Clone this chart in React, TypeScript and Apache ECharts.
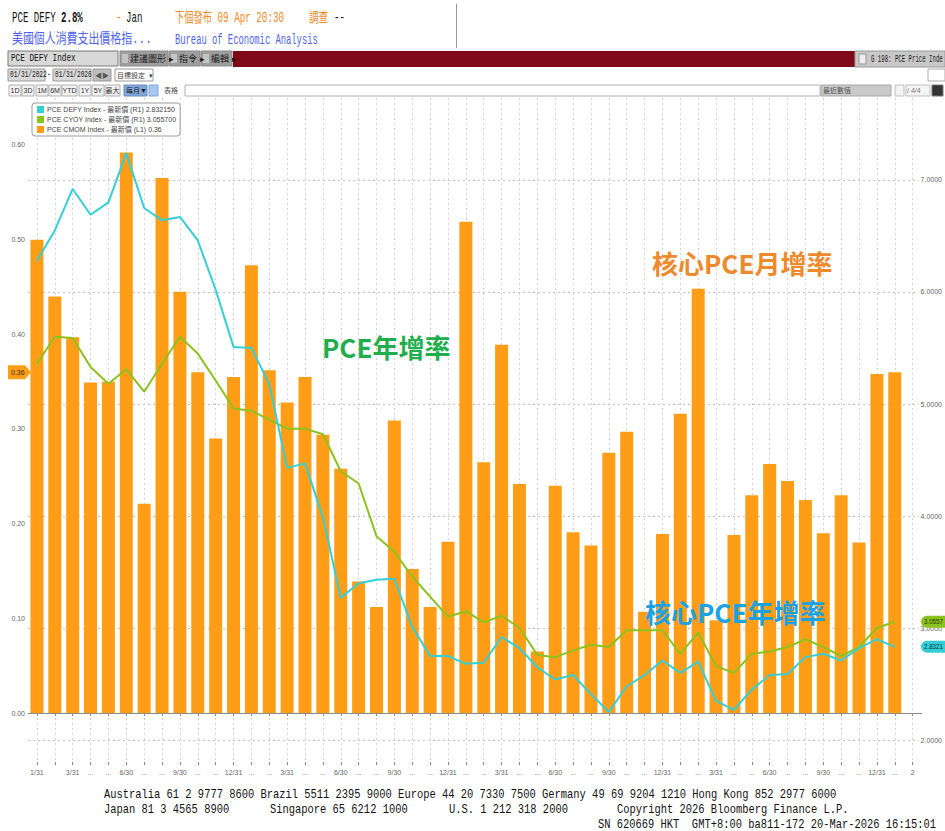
import React, { useEffect, useRef } from "react";
import * as echarts from "echarts";

// ---- data (Jan 2022 .. Jan 2026, monthly) ----
const categories = [
  "1/31", "", "3/31", "...", "...", "6/30", "...", "...", "9/30", "...", "...", "12/31",
  "...", "...", "3/31", "...", "...", "6/30", "...", "...", "9/30", "...", "...", "12/31",
  "...", "...", "3/31", "...", "...", "6/30", "...", "...", "9/30", "...", "...", "12/31",
  "...", "...", "3/31", "...", "...", "6/30", "...", "...", "9/30", "...", "...", "12/31",
  "...", "2",
];

// PCE CMOM Index (core PCE m/m, left axis)
const coreMoM = [
  0.50, 0.44, 0.397, 0.349, 0.35, 0.592, 0.221, 0.565, 0.445, 0.36, 0.29, 0.355,
  0.473, 0.362, 0.328, 0.355, 0.294, 0.258, 0.139, 0.112, 0.309, 0.152, 0.112, 0.181,
  0.519, 0.265, 0.389, 0.242, 0.065, 0.24, 0.191, 0.177, 0.275, 0.297, 0.107, 0.189,
  0.316, 0.448, 0.098, 0.188, 0.23, 0.263, 0.245, 0.225, 0.19, 0.23, 0.18, 0.358,
  0.36,
];

// PCE DEFY Index (headline PCE y/y, right axis)
const headlineYoY = [
  6.28, 6.55, 6.92, 6.69, 6.80, 7.24, 6.75, 6.64, 6.67, 6.46, 6.02, 5.51,
  5.50, 5.18, 4.43, 4.47, 3.99, 3.27, 3.40, 3.43, 3.44, 3.01, 2.75, 2.75,
  2.68, 2.69, 2.92, 2.82, 2.65, 2.54, 2.58, 2.41, 2.25, 2.48, 2.58, 2.71,
  2.60, 2.70, 2.35, 2.27, 2.45, 2.58, 2.59, 2.74, 2.77, 2.71, 2.82, 2.90,
  2.83215,
];

// PCE CYOY Index (core PCE y/y, right axis)
const coreYoY = [
  5.36, 5.60, 5.59, 5.33, 5.18, 5.31, 5.11, 5.36, 5.60, 5.45, 5.21, 4.96,
  4.94, 4.86, 4.78, 4.78, 4.73, 4.40, 4.29, 3.82, 3.68, 3.46, 3.28, 3.10,
  3.15, 3.05, 3.11, 3.00, 2.76, 2.74, 2.80, 2.85, 2.83, 2.98, 2.98, 2.98,
  2.77, 2.96, 2.66, 2.60, 2.77, 2.79, 2.83, 2.90, 2.83, 2.75, 2.83, 3.00,
  3.0557,
];

const leftTicks = [0, 0.1, 0.2, 0.3, 0.4, 0.5, 0.6];
const rightTicks = [2, 3, 4, 5, 6, 7];

const seriesNames = ["PCE DEFY Index", "PCE CYOY Index", "PCE CMOM Index"];
const legendSuffix = ["(R1) 2.832150", "(R1) 3.055700", "(L1) 0.36"];
const badgeTexts = ["2.8321", "3.0557", "0.36"];

const C_CYAN = "#34CFD6";
const C_GREEN = "#8CC21E";
const C_ORANGE = "#FF9E16";

const MONO = '"Liberation Mono", "Noto Sans CJK TC", monospace';
const SANS = '"Liberation Sans", "Noto Sans CJK TC", sans-serif';
const CJK = '"Noto Sans CJK TC", "Noto Sans", sans-serif';

function txt(text: string, x: number, y: number, o: any = {}) {
  return {
    type: "text",
    x,
    y,
    scaleX: o.sx ?? 1,
    z: 100,
    silent: true,
    style: {
      text,
      fill: o.fill ?? "#111",
      font: `${o.weight ?? "normal"} ${o.size ?? 12}px ${o.family ?? MONO}`,
      align: o.align ?? "left",
      verticalAlign: "middle",
      textAlign: o.align ?? "left",
      textVerticalAlign: "middle",
    },
  };
}

function rect(x: number, y: number, w: number, h: number, fill: string, stroke?: string, r = 0) {
  return {
    type: "rect",
    z: 99,
    silent: true,
    shape: { x, y, width: w, height: h, r },
    style: { fill, stroke: stroke ?? null, lineWidth: stroke ? 1 : 0 },
  };
}

function staticGraphics(): any[] {
  const g: any[] = [];
  const OR = "#F08A1E";
  const BL = "#4F63EC";
  // header row 1
  g.push(txt("PCE DEFY", 12, 18, { size: 14, sx: 0.65 }));
  g.push(txt("2.8%", 61, 18, { size: 14, sx: 0.65, weight: "bold" }));
  g.push(txt("-", 116, 18, { size: 14, sx: 0.65, fill: OR }));
  g.push(txt("Jan", 126, 18, { size: 14, sx: 0.65 }));
  g.push(txt("下個發布 09 Apr 20:30", 175, 18, { size: 14, sx: 0.66, fill: OR }));
  g.push(txt("調查", 309, 18, { size: 14, sx: 0.68, fill: OR }));
  g.push(txt("--", 334, 18, { size: 14, sx: 0.65 }));
  // header row 2
  g.push(txt("美國個人消費支出價格指...", 12, 40, { size: 14, sx: 0.78, fill: BL }));
  g.push(txt("Bureau of Economic Analysis", 175, 40, { size: 14, sx: 0.63, fill: BL }));
  g.push({ type: "line", z: 99, silent: true, shape: { x1: 456.5, y1: 4, x2: 456.5, y2: 48 }, style: { stroke: "#9a9a9a", lineWidth: 1 } });

  // toolbar row A
  g.push(rect(8, 51, 110, 15, "#D8D8D8", "#7a7a7a"));
  g.push(txt("PCE DEFY Index", 11, 58.5, { size: 11, sx: 0.7, fill: "#111" }));
  const btnA = [
    [120, 48, "建議圖形 ▸"],
    [169, 31, "指令 ▸"],
    [201, 31, "編輯 ▸"],
  ];
  btnA.forEach(([x, w, t]: any) => {
    g.push(rect(x, 51, w, 15, "#9E9E9E", "#8a8a8a"));
    g.push(rect(x + 2, 54, 6, 9, "#C4C4C4"));
    g.push(txt(t, x + 10, 58.5, { size: 9, family: SANS, fill: "#1a1a1a" }));
  });
  g.push(rect(233, 51, 622, 16, "#7E0A17"));
  g.push(rect(855, 51, 90, 16, "#C8C8C8", "#9a9a9a"));
  g.push(rect(859, 54, 7, 10, "#EDEDED", "#999"));
  g.push(txt("G 198: PCE Price Inde", 871, 59, { size: 10, sx: 0.57, fill: "#222" }));

  // toolbar row B
  g.push(rect(8, 69, 37, 12, "#D9D9D9", "#9a9a9a"));
  g.push(txt("01/31/2022", 10, 75, { size: 9, sx: 0.68, fill: "#222" }));
  g.push(txt("-", 47, 75, { size: 9, sx: 0.7 }));
  g.push(rect(53, 69, 38, 12, "#D9D9D9", "#9a9a9a"));
  g.push(txt("01/31/2026", 55, 75, { size: 9, sx: 0.68, fill: "#222" }));
  g.push(rect(93, 69, 18, 12, "#BDBDBD", "#9a9a9a"));
  g.push(txt("◀▶", 95, 75, { size: 7, family: SANS, fill: "#555" }));
  g.push(rect(115, 69, 38, 12, "#FFFFFF", "#9a9a9a"));
  g.push(txt("目標設定  ▾", 117, 75, { size: 7, family: SANS, fill: "#444" }));
  g.push(rect(928, 69, 17, 12, "#FFFFFF", "#aaaaaa"));

  // toolbar row C
  const btnC = [
    [9, "1D"], [22, "3D"], [36, "1M"], [49, "6M"], [62, "YTD"], [79, "1Y"], [92, "5Y"], [105, "最大"],
  ];
  btnC.forEach(([x, t]: any) => {
    const w = t === "YTD" ? 15 : t === "最大" ? 15 : 12;
    g.push(rect(x, 85, w, 11, "#F2F2F2", "#b0b0b0"));
    g.push(txt(t, x + w / 2, 90.5, { size: 7, family: SANS, fill: "#333", align: "center" }));
  });
  g.push(rect(124, 85, 23, 11, "#7FA6D8", "#6a8fc0"));
  g.push(txt("每月▼", 126, 90.5, { size: 7, family: SANS, fill: "#1a1a1a" }));
  g.push(rect(149, 85, 9, 11, "#A9C6EC", "#7FA6D8"));
  g.push(txt("表格", 164, 90.5, { size: 7, family: SANS, fill: "#555" }));
  g.push(rect(185, 85, 635, 11, "#FFFFFF", "#b0b0b0"));
  g.push(rect(821, 85, 70, 11, "#C9C9C9", "#a8a8a8"));
  g.push(txt("最近數值", 823, 90.5, { size: 7, family: SANS, fill: "#555" }));
  g.push(rect(895, 85, 9, 11, "#F4F4F4", "#c0c0c0"));
  g.push(rect(906, 85, 24, 11, "#F4F4F4", "#c0c0c0"));
  g.push(txt("/ 4/4 ", 907, 90.5, { size: 7, family: SANS, fill: "#777" }));
  g.push(rect(932, 85, 11, 11, "#333333", "#777"));

  // annotations
  g.push(txt("核心PCE月增率", 652, 262, { size: 26, family: CJK, weight: "bold", fill: "#EE8A2C" }));
  g.push(txt("PCE年增率", 322, 346, { size: 26, family: CJK, weight: "bold", fill: "#1FAE4B" }));
  g.push(txt("核心PCE年增率", 645, 611, { size: 26, family: CJK, weight: "bold", fill: "#1BA2E2" }));

  // footer
  const F = { size: 12, sx: 0.87, fill: "#111" };
  g.push(txt("Australia 61 2 9777 8600 Brazil 5511 2395 9000 Europe 44 20 7330 7500 Germany 49 69 9204 1210 Hong Kong 852 2977 6000", 104, 795, F));
  g.push(txt("Japan 81 3 4565 8900", 104, 810, F));
  g.push(txt("Singapore 65 6212 1000", 270, 810, F));
  g.push(txt("U.S. 1 212 318 2000", 449, 810, F));
  g.push(txt("Copyright 2026 Bloomberg Finance L.P.", 617, 810, F));
  g.push(txt("SN 620669 HKT  GMT+8:00 ba811-172 20-Mar-2026 16:15:01", 598, 825, F));
  return g;
}

export default function App() {
  const ref = useRef<HTMLDivElement>(null);

  useEffect(() => {
    document.body.style.margin = "0";
    const el = ref.current!;
    const chart = echarts.init(el, undefined, { renderer: "svg" });

    const monthIdx = categories.map((_, i) => i);

    const option: any = {
      animation: false,
      backgroundColor: "#ffffff",
      grid: { left: 28, top: 98, width: 901, height: 667, containLabel: false },
      legend: {
        left: 32,
        top: 103,
        orient: "vertical",
        icon: "rect",
        itemWidth: 7,
        itemHeight: 7,
        itemGap: 3,
        padding: [3, 4, 3, 5],
        borderColor: "#9a9a9a",
        borderWidth: 1,
        borderRadius: 3,
        backgroundColor: "#ffffff",
        data: seriesNames,
        formatter: (n: string) => n + " - 最新價 " + legendSuffix[seriesNames.indexOf(n)],
        textStyle: { fontSize: 7, color: "#444", fontFamily: SANS, padding: [0, 0, 0, -2] },
        selectedMode: false,
      },
      xAxis: [
        {
          type: "category",
          data: categories,
          boundaryGap: true,
          axisLine: { lineStyle: { color: "#8c8c8c", width: 1 } },
          axisTick: { show: true, alignWithLabel: true, interval: 0, length: 3, lineStyle: { color: "#8c8c8c" } },
          axisLabel: { interval: 0, fontSize: 7, color: "#666", margin: 4, fontFamily: SANS },
          splitLine: { show: false },
        },
        {
          // helper axis: month-centre grid lines and inner tick halves
          type: "value",
          position: "bottom",
          min: -0.5,
          max: categories.length - 0.5,
          axisLine: { show: false },
          axisLabel: { show: false },
          axisTick: { show: true, inside: true, length: 3, customValues: monthIdx, lineStyle: { color: "#8c8c8c" } },
          splitLine: { show: true, lineStyle: { color: "#d2d2d2", type: [2, 3], width: 1 } },
        },
      ],
      yAxis: [
        {
          type: "value",
          position: "left",
          min: -0.0549,
          max: 0.6496,
          axisLine: { show: false },
          axisTick: { show: false, customValues: leftTicks },
          axisLabel: { customValues: leftTicks, formatter: (v: number) => v.toFixed(2), fontSize: 7, color: "#666", margin: 3, fontFamily: SANS },
          splitLine: { show: false },
        },
        {
          type: "value",
          position: "right",
          min: 1.777,
          max: 7.732,
          axisLine: { show: false },
          axisTick: { show: false, customValues: rightTicks },
          axisLabel: { customValues: rightTicks, formatter: (v: number) => v.toFixed(4), fontSize: 7, color: "#666", margin: -3, fontFamily: SANS, backgroundColor: "#fff", padding: [0, 0, 0, 2] },
          splitLine: { show: true, lineStyle: { color: "#c4c4c4", type: [2, 3], width: 1 } },
        },
      ],
      series: [
        {
          name: seriesNames[0],
          type: "line",
          xAxisIndex: 0,
          yAxisIndex: 1,
          data: headlineYoY,
          symbol: "none",
          showSymbol: false,
          lineStyle: { color: C_CYAN, width: 2 },
          itemStyle: { color: C_CYAN },
          z: 4,
        },
        {
          name: seriesNames[1],
          type: "line",
          xAxisIndex: 0,
          yAxisIndex: 1,
          data: coreYoY,
          symbol: "none",
          showSymbol: false,
          lineStyle: { color: C_GREEN, width: 2 },
          itemStyle: { color: C_GREEN },
          z: 3,
        },
        {
          name: seriesNames[2],
          type: "bar",
          xAxisIndex: 0,
          yAxisIndex: 0,
          data: coreMoM,
          barWidth: 13,
          itemStyle: { color: C_ORANGE },
          z: 2,
        },
      ],
    };
    chart.setOption(option);

    const lastH = headlineYoY[headlineYoY.length - 1];
    const lastC = coreYoY[coreYoY.length - 1];
    const lastM = coreMoM[coreMoM.length - 1];
    const yH = chart.convertToPixel({ yAxisIndex: 1 } as any, lastH) as unknown as number;
    const yC = chart.convertToPixel({ yAxisIndex: 1 } as any, lastC) as unknown as number;
    const yM = chart.convertToPixel({ yAxisIndex: 0 } as any, lastM) as unknown as number;

    const badges: any[] = [
      {
        type: "polygon",
        silent: true,
        shape: { points: [[8, yM - 7], [25, yM - 7], [31, yM], [25, yM + 7], [8, yM + 7]] },
        style: { fill: C_ORANGE },
      },
      txt(badgeTexts[2], 11, yM, { size: 7, family: SANS, fill: "#3a2a00" }),
      rect(921, yC - 6, 32, 12, C_GREEN, undefined, 6),
      txt(badgeTexts[1], 924, yC, { size: 7, sx: 0.88, family: SANS, fill: "#1f3300" }),
      rect(921, yH - 6, 32, 12, C_CYAN, undefined, 6),
      txt(badgeTexts[0], 924, yH, { size: 7, sx: 0.88, family: SANS, fill: "#05353a" }),
    ].map((e: any) => ({ ...e, z: 102 }));

    chart.setOption({ graphic: { elements: [...staticGraphics(), ...badges] } });

    return () => {
      chart.dispose();
    };
  }, []);

  return (
    <div
      ref={ref}
      style={{ position: "fixed", left: 0, top: 0, width: 945, height: 831, background: "#fff" }}
    />
  );
}
